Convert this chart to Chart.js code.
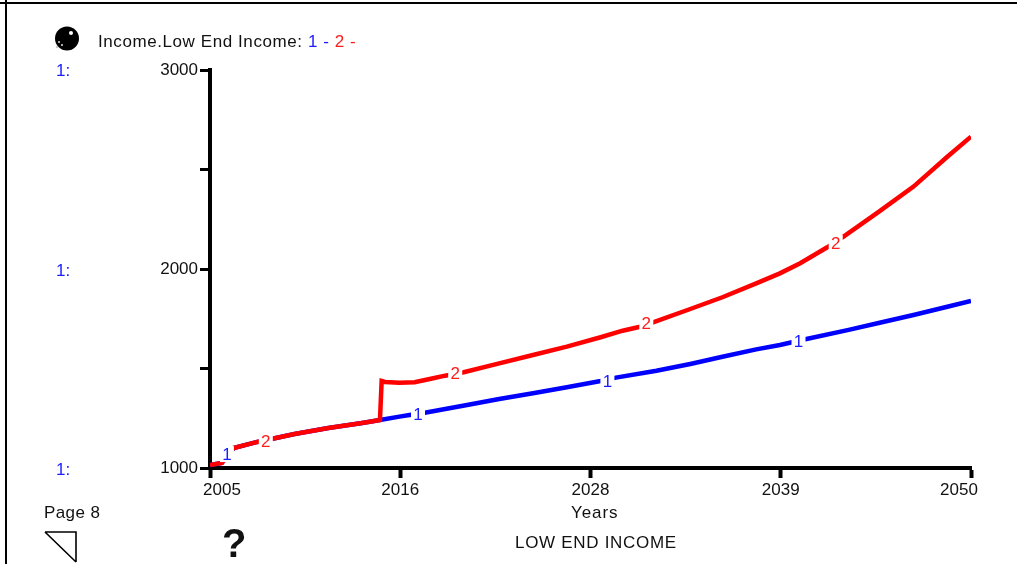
<!DOCTYPE html>
<html>
<head>
<meta charset="utf-8">
<title>Low End Income</title>
<script src="https://cdn.jsdelivr.net/npm/chart.js@4"></script>
<style>
  html, body { margin: 0; padding: 0; background: #fff; overflow: hidden; }
  body { width: 1017px; height: 564px; position: relative; font-family: "Liberation Sans", Arial, sans-serif; color: #111; }
  #chart { position: absolute; left: 0; top: 0; }
  .txt { position: absolute; font-size: 17px; line-height: 18px; white-space: nowrap; }
  .blue { color: #1c1cff; }
  .red { color: #ff1c1c; }
  .frame { position: absolute; background: #000; }
</style>
</head>
<body>
<canvas id="chart" width="1017" height="564"></canvas>
<div class="frame" style="left:0;top:2px;width:1017px;height:2px"></div>
<div class="frame" style="left:5px;top:0;width:2px;height:564px"></div>

<svg style="position:absolute;left:52px;top:25px" width="30" height="28">
  <circle cx="15" cy="13.5" r="12" fill="#000"/>
  <circle cx="19" cy="8" r="2" fill="#fff"/>
  <circle cx="7" cy="17" r="1" fill="#ddd"/>
  <circle cx="10" cy="20" r="1" fill="#ddd"/>
  <circle cx="5" cy="22" r="1" fill="#bbb"/>
</svg>
<div class="txt" style="left:98px;top:33px;letter-spacing:0.58px">Income.Low End Income: <span class="blue">1 - </span><span class="red">2 -</span></div>

<div class="txt blue" style="left:56px;top:62px">1:</div>
<div class="txt blue" style="left:56px;top:262px">1:</div>
<div class="txt blue" style="left:56px;top:461px">1:</div>

<div class="txt" style="left:44px;top:504px;letter-spacing:0.4px">Page 8</div>
<svg style="position:absolute;left:44px;top:531px" width="34" height="33">
  <path d="M1 1 H32 V31 M1 1 L32 31" fill="none" stroke="#000" stroke-width="1.6"/>
</svg>
<div class="txt" style="left:222px;top:523px;font-size:40px;line-height:40px;font-weight:bold">?</div>
<div class="txt" style="left:571px;top:504px;letter-spacing:0.9px">Years</div>
<div class="txt" style="left:515px;top:534px;letter-spacing:0.7px">LOW END INCOME</div>

<script>
// Datos
const blueYears = [2005, 2005.7, 2006.4, 2007.8, 2010, 2012, 2014, 2015.05, 2016.2, 2016.8, 2017.7, 2020.2, 2022.1, 2024.1, 2026.1, 2028.1, 2029, 2031.4, 2033.4, 2035.3, 2037.3, 2038.7, 2040.2, 2042.7, 2044.6, 2046.6, 2048.6, 2050];
const blueValues = [1015, 1025, 1100, 1131, 1171, 1201, 1226, 1241, 1258, 1266, 1278, 1317, 1347, 1376, 1406, 1437, 1454, 1489, 1523, 1559, 1596, 1618, 1647, 1693, 1730, 1769, 1810, 1839];
const redYears = [2005, 2005.7, 2006.4, 2007.8, 2010, 2012, 2014, 2015.05, 2015.15, 2015.35, 2016.2, 2017.1, 2018.2, 2018.9, 2020, 2022.1, 2024.1, 2026.1, 2028.1, 2029.4, 2030.3, 2031.2, 2033.4, 2035.3, 2037.3, 2038.7, 2039.9, 2041.5, 2042.4, 2044.6, 2046.6, 2048.6, 2050];
const redValues = [1015, 1025, 1100, 1131, 1171, 1201, 1226, 1241, 1437, 1432, 1429, 1431, 1451, 1464, 1481, 1526, 1568, 1610, 1657, 1690, 1707, 1732, 1799, 1858, 1928, 1978, 2029, 2109, 2159, 2291, 2414, 2564, 2665];

// Numeritos encima de las lineas
const blueLabelYears = [2006, 2017.3, 2028.5, 2039.8];
const blueLabelValues = [1070, 1271, 1437, 1638];
const redLabelYears = [2008.3, 2019.5, 2030.8, 2042];
const redLabelValues = [1136, 1477, 1729, 2131];

const yTickLabels = [1000, 2000, 3000];
const xTickLabels = ['2005', '2016', '2028', '2039', '2050'];

const blue = '#0000ff';
const red = '#ff0000';
const textFont = '"Liberation Sans", Arial, sans-serif';

function toPoints(xs, values) {
  return values.map((v, i) => ({ x: xs[i], y: v }));
}

// Corta la linea con un hueco blanco y escribe el numero de la serie
const lineLabels = {
  id: 'lineLabels',
  afterDatasetsDraw(chart) {
    const { ctx, scales } = chart;
    function put(xs, vs, text, color) {
      xs.forEach((year, i) => {
        const px = scales.x.getPixelForValue(year);
        const py = scales.y.getPixelForValue(vs[i]);
        ctx.save();
        ctx.fillStyle = '#fff';
        ctx.fillRect(px - 7, py - 8, 14, 16);
        ctx.fillStyle = color;
        ctx.font = '17px ' + textFont;
        ctx.textAlign = 'center';
        ctx.textBaseline = 'middle';
        ctx.fillText(text, px, py + 1);
        ctx.restore();
      });
    }
    put(blueLabelYears, blueLabelValues, '1', '#1c1cff');
    put(redLabelYears, redLabelValues, '2', '#ff1c1c');
  }
};

// La primera y la ultima etiqueta del eje X van corridas hacia adentro
const shiftEndLabels = {
  id: 'shiftEndLabels',
  beforeDraw(chart) {
    const scale = chart.scales.x;
    const items = scale.getLabelItems(chart.chartArea);
    items.forEach((item, i) => {
      let shift = 0;
      if (i === 0) shift = 12;
      if (i === items.length - 1) shift = -12;
      item.options.translation[0] = scale.getPixelForTick(i) + shift;
    });
  }
};

new Chart(document.getElementById('chart').getContext('2d'), {
  type: 'line',
  data: {
    datasets: [
      { label: '1', data: toPoints(blueYears, blueValues), borderColor: blue, borderWidth: 4.5, pointRadius: 0, tension: 0, order: 2 },
      { label: '2', data: toPoints(redYears, redValues), borderColor: red, borderWidth: 4.5, pointRadius: 0, tension: 0, order: 1 }
    ]
  },
  options: {
    responsive: false,
    animation: false,
    layout: { padding: { left: 0, right: 46, top: 70, bottom: 0 } },
    plugins: { legend: { display: false }, tooltip: { enabled: false } },
    scales: {
      x: {
        type: 'linear',
        min: 2005,
        max: 2050,
        afterBuildTicks(scale) {
          scale.ticks = xTickLabels.map((t, i) => ({ value: 2005 + i * 11.25 }));
        },
        afterFit(scale) { scale.height = 96; },
        border: { color: '#000', width: 4 },
        grid: { drawOnChartArea: false, color: '#000', tickLength: 10, tickWidth: 4 },
        ticks: {
          maxRotation: 0,
          autoSkip: false,
          padding: 2,
          color: '#111',
          font: { family: textFont, size: 17 },
          callback(value, index) { return xTickLabels[index]; }
        }
      },
      y: {
        min: 1000,
        max: 3000,
        afterFit(scale) { scale.width = 210; },
        border: { color: '#000', width: 4 },
        grid: { drawOnChartArea: false, color: '#000', tickLength: 10, tickWidth: 3 },
        ticks: {
          stepSize: 500,
          padding: 2,
          color: '#111',
          font: { family: textFont, size: 17 },
          callback(value) { return yTickLabels.includes(value) ? String(value) : ''; }
        }
      }
    }
  },
  plugins: [shiftEndLabels, lineLabels]
});
</script>
</body>
</html>
